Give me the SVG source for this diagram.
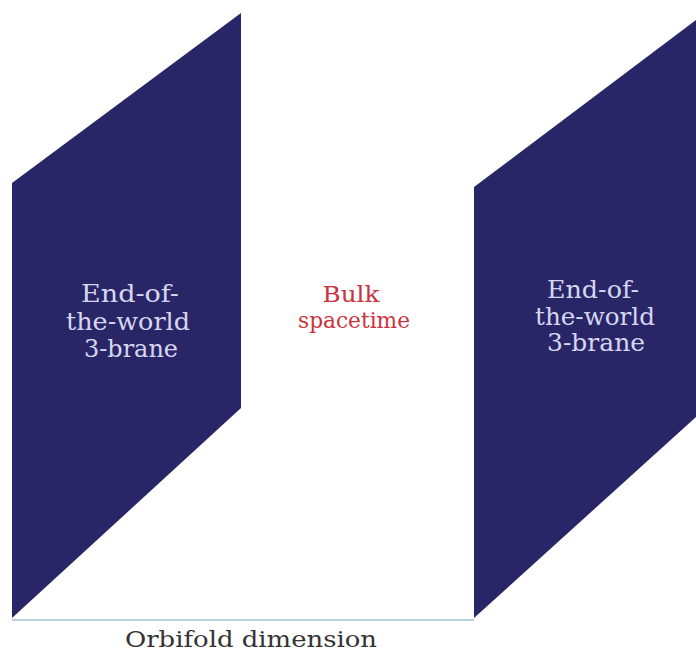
<svg xmlns="http://www.w3.org/2000/svg" width="696" height="653" viewBox="0 0 696 653">
<style>
.brane{fill:#292668}
.bt{font-family:"DejaVu Serif","Liberation Serif",serif;font-size:24px;fill:#d6d6f0;text-anchor:middle}
.bulk{font-family:"DejaVu Serif","Liberation Serif",serif;font-size:22px;fill:#cc3340;text-anchor:middle}
.axis{font-family:"DejaVu Serif","Liberation Serif",serif;font-size:22px;fill:#333;text-anchor:middle}
</style>
<rect width="696" height="653" fill="#fff"/>
<g id="connectors">
<line x1="12" y1="620" x2="474" y2="620" stroke="#b9d3de" stroke-width="2"/>
</g>
<g id="left-brane">
<polygon class="brane" points="12,183 241,13 241,408 12,618"/>
<text class="bt" x="130" y="302" textLength="98" lengthAdjust="spacingAndGlyphs">End-of-</text>
<text class="bt" x="128" y="330" textLength="124" lengthAdjust="spacingAndGlyphs">the-world</text>
<text class="bt" x="131" y="357" textLength="94" lengthAdjust="spacingAndGlyphs">3-brane</text>
</g>
<g id="bulk">
<text class="bulk" x="351" y="302" textLength="57" lengthAdjust="spacingAndGlyphs">Bulk</text>
<text class="bulk" x="354" y="328" textLength="112" lengthAdjust="spacingAndGlyphs">spacetime</text>
</g>
<g id="right-brane">
<polygon class="brane" points="474,187 696,20 696,417 474,618"/>
<text class="bt" x="593" y="298" textLength="92" lengthAdjust="spacingAndGlyphs">End-of-</text>
<text class="bt" x="595" y="325" textLength="120" lengthAdjust="spacingAndGlyphs">the-world</text>
<text class="bt" x="596" y="351" textLength="98" lengthAdjust="spacingAndGlyphs">3-brane</text>
</g>
<g id="orbifold-label">
<text class="axis" x="251" y="647" textLength="252" lengthAdjust="spacingAndGlyphs">Orbifold dimension</text>
</g>
</svg>
